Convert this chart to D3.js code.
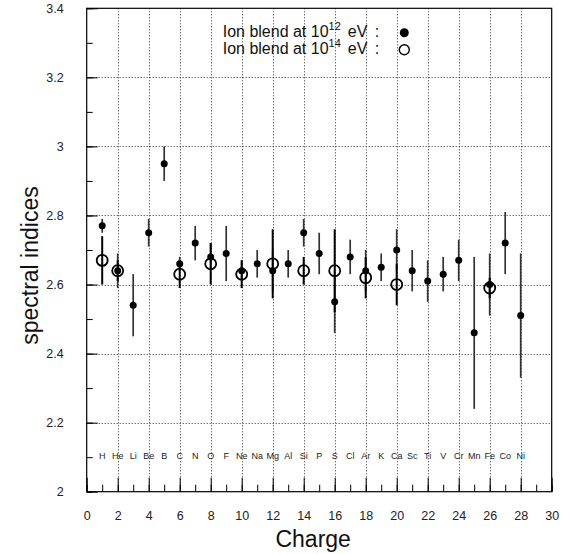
<!DOCTYPE html>
<html>
<head>
<meta charset="utf-8">
<script src="https://cdn.jsdelivr.net/npm/d3@7/dist/d3.min.js"></script>
<style>
  html, body { margin: 0; padding: 0; background: #fff; }
  svg { display: block; }
  text { font-family: "Liberation Sans", Arial, Helvetica, sans-serif; }
</style>
</head>
<body>
<svg id="chart" width="563" height="554"></svg>
<script>
// ---- data ----
const charges = d3.range(1, 29);
const elements = ["H","He","Li","Be","B","C","N","O","F","Ne","Na","Mg","Al","Si","P","S","Cl","Ar","K","Ca","Sc","Ti","V","Cr","Mn","Fe","Co","Ni"];
// 10^12 eV blend (filled)
const filledValues = [2.77,2.64,2.54,2.75,2.95,2.66,2.72,2.68,2.69,2.64,2.66,2.64,2.66,2.75,2.69,2.55,2.68,2.64,2.65,2.70,2.64,2.61,2.63,2.67,2.46,2.60,2.72,2.51];
const filledErrors = [0.02,0.05,0.09,0.04,0.05,0.02,0.05,0.04,0.08,0.03,0.04,0.06,0.04,0.04,0.06,0.09,0.05,0.06,0.04,0.06,0.06,0.06,0.05,0.06,0.22,0.09,0.09,0.18];
// 10^14 eV blend (open)
const openCharges = [1,2,6,8,10,12,14,16,18,20,26];
const openValues = [2.67,2.64,2.63,2.66,2.63,2.66,2.64,2.64,2.62,2.60,2.59];
const openErrors = [0.07,0.03,0.04,0.06,0.04,0.10,0.04,0.12,0.06,0.06,0.03];
// axes
const xTickValues = d3.range(0, 31, 2);
const xTickLabels = ["0","2","4","6","8","10","12","14","16","18","20","22","24","26","28","30"];
const yTickValues = [2, 2.2, 2.4, 2.6, 2.8, 3, 3.2, 3.4];
const yTickLabels = ["2","2.2","2.4","2.6","2.8","3","3.2","3.4"];
const xGridValues = d3.range(2, 29, 2);
const yGridValues = [2.2, 2.4, 2.6, 2.8, 3.0, 3.2];

// ---- layout ----
const L = 86.7, R = 551.7, T = 8.3, B = 491.7;
const svg = d3.select("#chart");
const x = d3.scaleLinear().domain([0, 30]).range([L, R]);
const y = d3.scaleLinear().domain([2, 3.4]).range([B, T]);

// grid
const grid = svg.append("g").attr("stroke", "#333").attr("stroke-width", 1).attr("stroke-dasharray", "1,2");
grid.selectAll(".gx").data(xGridValues).join("line")
  .attr("x1", d => Math.round(x(d)) + 0.5).attr("x2", d => Math.round(x(d)) + 0.5)
  .attr("y1", T).attr("y2", B);
grid.selectAll(".gy").data(yGridValues).join("line")
  .attr("y1", d => Math.round(y(d)) + 0.5).attr("y2", d => Math.round(y(d)) + 0.5)
  .attr("x1", L).attr("x2", R);

// x axis ticks
const xMinor = svg.append("g").attr("transform", `translate(0,${B})`)
  .call(d3.axisBottom(x).tickValues(d3.range(0, 31, 1)).tickSize(-7).tickFormat(""));
const xMajor = svg.append("g").attr("transform", `translate(0,${B})`)
  .call(d3.axisBottom(x).tickValues(xTickValues).tickSize(-14).tickPadding(19)
    .tickFormat((d, i) => xTickLabels[i]));
// y axis ticks
const yMinor = svg.append("g").attr("transform", `translate(${L},0)`)
  .call(d3.axisLeft(y).tickValues(d3.range(20, 35, 1).map(v => v / 10)).tickSize(-6).tickFormat(""));
const yMajor = svg.append("g").attr("transform", `translate(${L},0)`)
  .call(d3.axisLeft(y).tickValues(yTickValues).tickSize(-11).tickPadding(23)
    .tickFormat((d, i) => yTickLabels[i]));
[xMinor, xMajor, yMinor, yMajor].forEach(g => {
  g.select(".domain").remove();
  g.selectAll("line").attr("stroke", "#000");
  g.selectAll("text").attr("font-size", 12.5).attr("fill", "#222")
    .attr("font-family", "'Liberation Sans', Arial, sans-serif");
});

// frame
svg.append("rect").attr("x", L).attr("y", T).attr("width", R - L).attr("height", B - T)
  .attr("fill", "none").attr("stroke", "#000").attr("stroke-width", 1.2);

// element labels
svg.append("g").selectAll("text").data(charges).join("text")
  .attr("x", d => x(d)).attr("y", 458.5).attr("text-anchor", "middle")
  .attr("font-size", 9).attr("fill", "#222")
  .text((d, i) => elements[i]);

// error bars (filled)
svg.append("g").selectAll("line").data(charges).join("line")
  .attr("x1", d => x(d)).attr("x2", d => x(d))
  .attr("y1", (d, i) => y(filledValues[i] - filledErrors[i]))
  .attr("y2", (d, i) => y(filledValues[i] + filledErrors[i]))
  .attr("stroke", "#333").attr("stroke-width", 1.7);
// error bars (open)
svg.append("g").selectAll("line").data(openCharges).join("line")
  .attr("x1", d => x(d)).attr("x2", d => x(d))
  .attr("y1", (d, i) => y(openValues[i] - openErrors[i]))
  .attr("y2", (d, i) => y(openValues[i] + openErrors[i]))
  .attr("stroke", "#000").attr("stroke-width", 2);

// open markers
svg.append("g").selectAll("circle").data(openCharges).join("circle")
  .attr("cx", d => x(d)).attr("cy", (d, i) => y(openValues[i])).attr("r", 5.5)
  .attr("fill", "none").attr("stroke", "#000").attr("stroke-width", 1.8);
// filled markers
svg.append("g").selectAll("circle").data(charges).join("circle")
  .attr("cx", d => x(d)).attr("cy", (d, i) => y(filledValues[i])).attr("r", 3.5)
  .attr("fill", "#000");

// legend
const legend = [{exp: "12", filled: true}, {exp: "14", filled: false}];
const lg = svg.append("g");
legend.forEach((l, i) => {
  const by = 36.7 + i * 17;
  const t = lg.append("text").attr("x", 222.7).attr("y", by).attr("font-size", 16).attr("fill", "#111");
  t.append("tspan").text("Ion blend at 10");
  t.append("tspan").attr("dy", -6.5).attr("font-size", 11).text(l.exp);
  t.append("tspan").attr("dy", 6.5).attr("dx", 7).text("eV");
  t.append("tspan").attr("dx", 8).text(":");
  lg.append("circle").attr("cx", 404.3).attr("cy", by - 4).attr("r", l.filled ? 4.5 : 5)
    .attr("fill", l.filled ? "#000" : "none").attr("stroke", "#000").attr("stroke-width", l.filled ? 0 : 1.4);
});

// titles
svg.append("text").attr("x", (L + R) / 2 - 6).attr("y", 547).attr("text-anchor", "middle")
  .attr("font-size", 23).attr("fill", "#111").text("Charge");
svg.append("text").attr("transform", `translate(38,${y(2.655)}) rotate(-90)`).attr("text-anchor", "middle")
  .attr("font-size", 23).attr("fill", "#111").text("spectral indices");
</script>
</body>
</html>
